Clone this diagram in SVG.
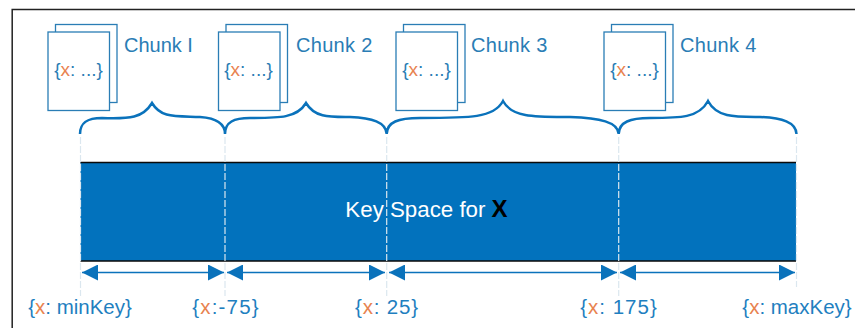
<svg xmlns="http://www.w3.org/2000/svg" width="855" height="328" viewBox="0 0 855 328">
<style>
text{font-family:"Liberation Sans",Arial,sans-serif}
.doc{fill:#fff;stroke:#2a7db5;stroke-width:1.3}
.lbl{font-size:20px;fill:#2a7db5}
.num{letter-spacing:.3px}
.in{font-size:19px;fill:#2a7db5;text-anchor:middle}
.key{font-size:20.5px;fill:#1f7fc0;text-anchor:middle}
.x{fill:#e8834f}
.brace{fill:none;stroke:#0a72bb;stroke-width:2.5}
.guide{stroke:#dbe7ef;stroke-width:1.2;stroke-dasharray:7 2}
.span{stroke:#0a72bb;stroke-width:1.5;marker-start:url(#a);marker-end:url(#b)}
.frame{fill:none;stroke:#222;stroke-width:1.5}
</style>
<defs>
<marker id="a" markerUnits="userSpaceOnUse" markerWidth="17" markerHeight="17" refX="0" refY="8" orient="auto"><path d="M0,8L16,0V16Z" fill="#0a72bb"/></marker>
<marker id="b" markerUnits="userSpaceOnUse" markerWidth="17" markerHeight="17" refX="16" refY="8" orient="auto"><path d="M16,8L0,0V16Z" fill="#0a72bb"/></marker>
<g id="docs"><rect class="doc" x="7.5" y="-7.5" width="61.5" height="78"/><rect class="doc" x="0" y="0" width="61.5" height="78.5"/></g>
</defs>
<path class="frame" d="M855,9.5H12.2V328"/>
<g id="bar">
<rect x="80.5" y="162.5" width="715.5" height="98.5" fill="#0272bd"/>
<path d="M80.5,162.5H796M80.5,261H796" stroke="#0a0a0a" stroke-width="1.5" fill="none"/>
<text x="426.5" y="217" font-size="22.3" fill="#fff" text-anchor="middle">Key Space for <tspan font-weight="bold" fill="#000" font-size="24">X</tspan></text>
</g>
<g id="connectors">
<path class="guide" d="M80.5,137V296M225,137V296M386.7,137V296M618.7,137V296M796.5,137V287"/>
<path class="brace" d="M80,134C80,122 88,118 102,118C130,119 143,118 152,103C161,118 174,116 200,117C214,118 225,122 225,134C225,122 234,118 250,118C280,118 297,118 306,103C315,118 330,117 350,117C372,118 386,122 386.7,134C387,122 398,118 420,118C470,118 494,118 503,101C512,118 536,117 570,117C600,118 618,122 618.7,134C619,122 630,118 650,118C680,118 699,118 708,101C717,118 736,117 760,117C782,118 796,122 796.5,134"/>
<line class="span" x1="82" y1="272.5" x2="224" y2="272.5"/>
<line class="span" x1="227" y1="272.5" x2="385" y2="272.5"/>
<line class="span" x1="389" y1="272.5" x2="617" y2="272.5"/>
<line class="span" x1="620" y1="272.5" x2="795" y2="272.5"/>
</g>
<g id="chunk1"><use href="#docs" x="48" y="32"/><text class="in" x="78.5" y="76">{<tspan class="x">x</tspan>: ...}</text><text class="lbl" x="124" y="52">Chunk I</text></g>
<g id="chunk2"><use href="#docs" x="218.5" y="32"/><text class="in" x="248.5" y="76">{<tspan class="x">x</tspan>: ...}</text><text class="lbl num" x="296" y="52">Chunk 2</text></g>
<g id="chunk3"><use href="#docs" x="396" y="32"/><text class="in" x="426.5" y="76">{<tspan class="x">x</tspan>: ...}</text><text class="lbl num" x="471" y="52">Chunk 3</text></g>
<g id="chunk4"><use href="#docs" x="604" y="32"/><text class="in" x="634.5" y="76">{<tspan class="x">x</tspan>: ...}</text><text class="lbl num" x="680" y="52">Chunk 4</text></g>
<g id="keys">
<text class="key" x="80" y="314">{<tspan class="x">x</tspan>: minKey}</text>
<text class="key" x="226" y="314" letter-spacing="1.2">{<tspan class="x">x</tspan>:-75}</text>
<text class="key" x="387" y="314" letter-spacing=".85">{<tspan class="x">x</tspan>: 25}</text>
<text class="key" x="619" y="314" letter-spacing="1">{<tspan class="x">x</tspan>: 175}</text>
<text class="key" x="797" y="314">{<tspan class="x">x</tspan>: maxKey}</text>
</g>
</svg>
